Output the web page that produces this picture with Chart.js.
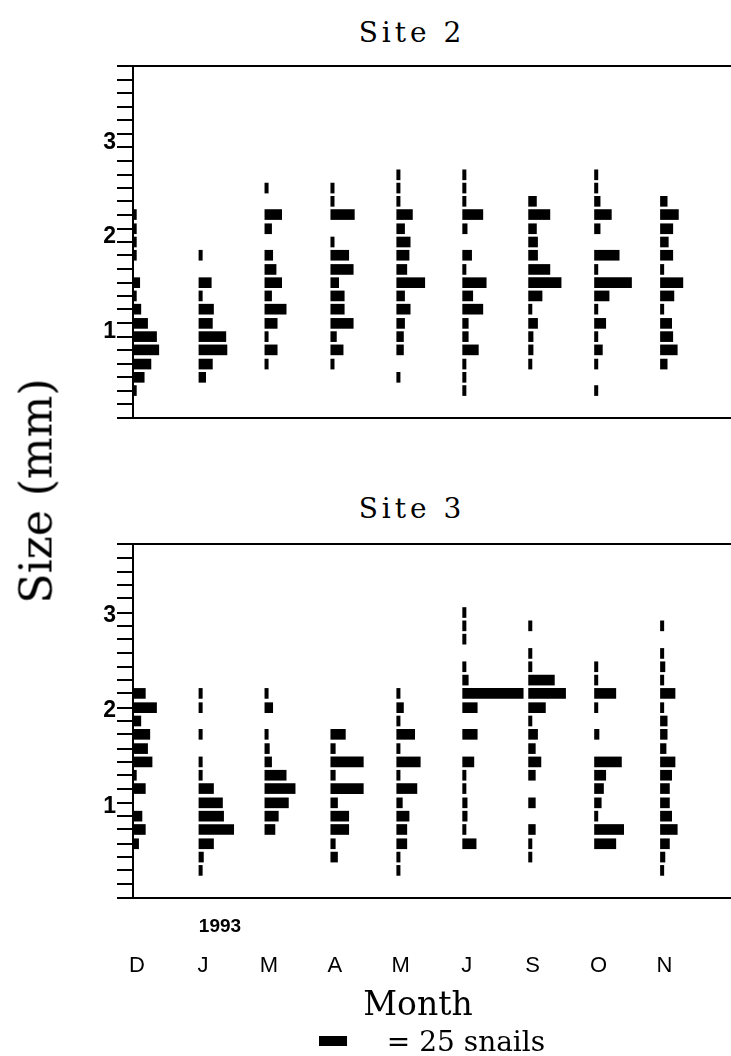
<!DOCTYPE html>
<html>
<head>
<meta charset="utf-8">
<script src="https://cdn.jsdelivr.net/npm/chart.js@4.4.1/dist/chart.umd.min.js"></script>
<style>
  html, body { margin: 0; padding: 0; background: #fff; }
  #page { position: relative; width: 731px; height: 1056px; overflow: hidden; }
  canvas { position: absolute; left: 0; }
  .txt { position: absolute; color: #000; white-space: nowrap; transform: translate(-50%, -50%); }
  .title { font-family: "DejaVu Serif", serif; font-size: 28px; letter-spacing: 4px; }
</style>
</head>
<body>
<div id="page">
  <div class="txt title" style="left:412px; top:32px;">Site 2</div>
  <div id="box2" style="position:absolute; left:0; top:0; width:731px; height:440px;"><canvas id="site2"></canvas></div>
  <div class="txt title" style="left:412px; top:508px;">Site 3</div>
  <div id="box3" style="position:absolute; left:0; top:478px; width:731px; height:578px;"><canvas id="site3"></canvas></div>
  <div class="txt" style="left:36px; top:491px; font-family:'DejaVu Serif',serif; font-size:44px; transform:translate(-50%,-50%) rotate(-90deg);">Size (mm)</div>
  <div class="txt" style="left:220px; top:926px; font-family:'Liberation Sans',sans-serif; font-weight:bold; font-size:19px;">1993</div>
  <div class="txt" style="left:418px; top:1003px; font-family:'DejaVu Serif',serif; font-size:33px;">Month</div>
  <div class="txt" style="left:466px; top:1041px; font-family:'DejaVu Serif',serif; font-size:28px;">= 25 snails</div>
</div>
<script>
// sampling months, Dec 1992 to Nov 1993
const MONTHS = ["D", "J", "M", "A", "M", "J", "S", "O", "N"];

// size classes (mm), one per row of bars
const SIZE_MM = [0.14, 0.29, 0.43, 0.57, 0.71, 0.86, 1.00, 1.14, 1.29, 1.43, 1.57,
  1.71, 1.86, 2.00, 2.14, 2.29, 2.43, 2.57, 2.71, 2.86, 3.00, 3.14];

const Y_TICKS = [0.14, 0.29, 0.43, 0.57, 0.71, 0.86, 1, 1.14, 1.29, 1.43, 1.57, 1.71,
  1.86, 2, 2.14, 2.29, 2.43, 2.57, 2.71, 2.86, 3, 3.14, 3.29, 3.43, 3.57, 3.71, 3.86];

// number of snails in each size class
const SITE2_DEC = [0, 0, 3, 10, 16, 23, 21, 13, 7, 3, 6, 0, 3, 3, 3, 3, 0, 0, 0, 0, 0, 0];
const SITE2_JAN = [0, 0, 0, 6, 12, 25, 24, 12, 13, 3, 11, 0, 3, 0, 0, 0, 0, 0, 0, 0, 0, 0];
const SITE2_MAR = [0, 0, 0, 0, 3, 11, 3, 11, 19, 6, 15, 10, 7, 0, 6, 15, 0, 3, 0, 0, 0, 0];
const SITE2_APR = [0, 0, 0, 0, 3, 11, 5, 20, 12, 12, 7, 20, 16, 3, 0, 21, 3, 3, 0, 0, 0, 0];
const SITE2_MAY = [0, 0, 0, 3, 0, 6, 6, 7, 12, 7, 25, 9, 11, 12, 7, 14, 3, 3, 3, 0, 0, 0];
const SITE2_JUN = [0, 0, 3, 3, 3, 14, 5, 5, 18, 9, 21, 3, 8, 0, 4, 18, 3, 3, 3, 0, 0, 0];
const SITE2_SEP = [0, 0, 0, 0, 3, 4, 4, 8, 3, 12, 29, 19, 8, 8, 7, 19, 7, 0, 0, 0, 0, 0];
const SITE2_OCT = [0, 0, 3, 0, 3, 7, 3, 10, 3, 13, 33, 3, 22, 0, 5, 15, 5, 3, 3, 0, 0, 0];
const SITE2_NOV = [0, 0, 0, 0, 6, 15, 11, 10, 3, 12, 20, 3, 11, 7, 11, 16, 6, 0, 0, 0, 0, 0];

const SITE3_DEC = [0, 0, 0, 0, 5, 11, 8, 0, 11, 3, 17, 13, 15, 7, 21, 11, 0, 0, 0, 0, 0, 0];
const SITE3_JAN = [0, 0, 3, 4, 13, 31, 22, 21, 13, 3, 3, 0, 3, 0, 3, 3, 0, 0, 0, 0, 0, 0];
const SITE3_MAR = [0, 0, 0, 0, 0, 9, 12, 21, 27, 19, 6, 4, 3, 0, 7, 3, 0, 0, 0, 0, 0, 0];
const SITE3_APR = [0, 0, 0, 6, 4, 16, 16, 6, 29, 4, 29, 4, 13, 0, 0, 0, 0, 0, 0, 0, 0, 0];
const SITE3_MAY = [0, 0, 3, 3, 9, 9, 11, 5, 18, 3, 21, 3, 16, 3, 6, 3, 0, 0, 0, 0, 0, 0];
const SITE3_JUN = [0, 0, 0, 0, 12, 3, 4, 4, 3, 3, 10, 0, 13, 0, 13, 54, 5, 3, 0, 3, 3, 3];
const SITE3_SEP = [0, 0, 0, 3, 3, 6, 0, 6, 0, 6, 11, 6, 8, 3, 15, 33, 23, 3, 3, 0, 3, 0];
const SITE3_OCT = [0, 0, 0, 0, 19, 26, 3, 6, 8, 10, 24, 0, 4, 0, 3, 19, 3, 3, 0, 0, 0, 0];
const SITE3_NOV = [0, 0, 3, 4, 8, 15, 10, 8, 8, 10, 13, 5, 6, 6, 3, 13, 3, 4, 3, 0, 3, 0];

const LEGEND_SNAILS = 25;

const SITE2 = [SITE2_DEC, SITE2_JAN, SITE2_MAR, SITE2_APR, SITE2_MAY, SITE2_JUN, SITE2_SEP, SITE2_OCT, SITE2_NOV];
const SITE3 = [SITE3_DEC, SITE3_JAN, SITE3_MAR, SITE3_APR, SITE3_MAY, SITE3_JUN, SITE3_SEP, SITE3_OCT, SITE3_NOV];

// one month step on the x axis is as wide as this many snails
const SNAILS_PER_STEP = 58.8;
const X_MAX = 9.07;

function makeDatasets(columns) {
  return columns.map((counts, i) => ({
    data: counts
      .map((count, k) => (count > 0 ? { y: SIZE_MM[k], x: [i, i + count / SNAILS_PER_STEP] } : null))
      .filter(Boolean),
    backgroundColor: "#000",
    borderWidth: 0,
    barThickness: 10,
    grouped: false,
  }));
}

const legendSwatch = {
  id: "legendSwatch",
  afterDraw(chart) {
    const xs = chart.scales.x;
    const w = xs.getPixelForValue(LEGEND_SNAILS / SNAILS_PER_STEP) - xs.getPixelForValue(0);
    const ctx = chart.ctx;
    ctx.save();
    ctx.fillStyle = "#000";
    ctx.fillRect(319, 1041 - 478 - 5, w, 10);
    ctx.restore();
  },
};

function makeChart(id, columns, withMonths) {
  const lastTick = Y_TICKS.length - 1;
  return new Chart(document.getElementById(id), {
    type: "bar",
    data: { datasets: makeDatasets(columns) },
    plugins: withMonths ? [legendSwatch] : [],
    options: {
      indexAxis: "y",
      responsive: true,
      maintainAspectRatio: false,
      animation: false,
      devicePixelRatio: 1,
      layout: { padding: { top: 66, bottom: withMonths ? 0 : 22, left: 0, right: 0 } },
      plugins: {
        legend: { display: false },
        tooltip: { enabled: false },
      },
      scales: {
        x: {
          type: "linear",
          min: 0,
          max: X_MAX,
          display: withMonths,
          grid: { display: false, drawTicks: false },
          border: { display: false },
          afterBuildTicks: (scale) => {
            scale.ticks = MONTHS.map((_, i) => ({ value: i }));
          },
          afterFit: (scale) => {
            // the hidden axis of the upper panel must take no room
            scale.height = withMonths ? 158 : 0;
          },
          ticks: {
            callback: (value, index) => MONTHS[index],
            autoSkip: false,
            maxRotation: 0,
            padding: 55,
            labelOffset: 4,
            color: "#000",
            font: { family: "Liberation Sans", size: 22 },
          },
        },
        y: {
          type: "linear",
          min: Y_TICKS[0],
          max: Y_TICKS[lastTick],
          offset: false,
          afterBuildTicks: (scale) => {
            scale.ticks = Y_TICKS.map((v) => ({ value: v }));
          },
          afterFit: (scale) => {
            scale.width = 133;
          },
          border: { display: true, color: "#000", width: 2 },
          grid: {
            offset: false,
            drawOnChartArea: true,
            color: (ctx) => (ctx.index === 0 || ctx.index === lastTick ? "#000" : "rgba(0,0,0,0)"),
            lineWidth: 2,
            tickColor: "#000",
            tickWidth: 2,
            tickLength: 16,
          },
          ticks: {
            callback: (value) => (Number.isInteger(value) ? String(value) : ""),
            autoSkip: false,
            padding: 1,
            labelOffset: withMonths ? -10 : -5,
            color: "#000",
            font: { family: "Liberation Sans", size: 23, weight: "bold" },
          },
        },
      },
    },
  });
}

makeChart("site2", SITE2, false);
makeChart("site3", SITE3, true);
</script>
</body>
</html>
